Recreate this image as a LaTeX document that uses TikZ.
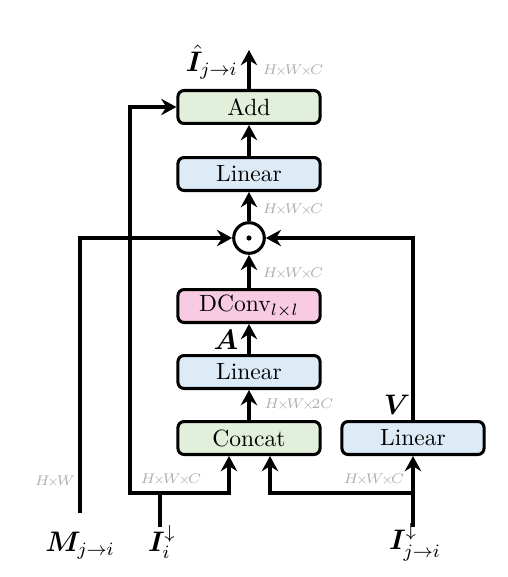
\documentclass[tikz,border=0pt]{standalone}
\usepackage{amsmath,bm}
\usetikzlibrary{arrows.meta}
\definecolor{gfill}{RGB}{226,239,218}
\definecolor{bfill}{RGB}{221,235,247}
\definecolor{pfill}{RGB}{248,203,226}
\definecolor{dimgray}{RGB}{175,175,175}
\newcommand{\dimx}{\mkern-3mu{\scriptstyle\times}\mkern-3mu}
\begin{document}
\begin{tikzpicture}[x=0.425pt,y=-0.425pt,
  blk/.style={draw,line width=1.3pt,rounded corners=2.6pt,minimum width=60.4pt,minimum height=14pt,inner sep=0pt},
  arr/.style={line width=1.3pt,-{Stealth[length=6.5pt,width=7pt,inset=2.2pt]}},
  ln/.style={line width=1.3pt},
  dim/.style={text=dimgray,font=\fontsize{6.5}{7}\selectfont,inner sep=0pt}]
\useasboundingbox (0,0) rectangle (508,577);
\node[blk,fill=gfill] (add) at (249,107) {Add};
\node[blk,fill=bfill] (lin1) at (249,174) {Linear};
\node[draw,circle,line width=1.3pt,minimum size=13pt,inner sep=0pt] (dot) at (249,238) {};
\fill (dot.center) circle (1.1pt);
\node[blk,fill=pfill] (dconv) at (249,306) {DConv$_{l\times l}$};
\node[blk,fill=bfill] (lin2) at (249,372) {Linear};
\node[blk,fill=gfill] (cat) at (249,438) {Concat};
\node[blk,fill=bfill] (lin3) at (413,438) {Linear};
\coordinate (out) at (249,50);
\coordinate (mbot) at (80,513);
\coordinate (ibot) at (160,527);
\coordinate (jbot) at (413,527);
\coordinate (ijn) at (160,493);
\coordinate (jjn) at (413,493);
\node (mlab) at (80,546) {\large$\bm{M}_{j\to i}$};
\node (ilab) at (162,542) {\large$\bm{I}_{i}^{\downarrow}$};
\node (jlab) at (415,542) {\large$\bm{I}_{j\to i}^{\downarrow}$};
\node[anchor=east,inner sep=0pt] (olab) at (238,62) {\large$\hat{\bm{I}}_{j\to i}$};
\node (alab) at (226,340) {\large$\bm{A}$};
\node (vlab) at (397,405) {\large$\bm{V}$};
\node[dim] at (293,71) {$H\dimx W\dimx C$};
\node[dim] at (293,210) {$H\dimx W\dimx C$};
\node[dim] at (293,274) {$H\dimx W\dimx C$};
\node[dim] at (299,405) {$H\dimx W\dimx 2C$};
\node[dim] at (55,482) {$H\dimx W$};
\node[dim] at (171,480) {$H\dimx W\dimx C$};
\node[dim] at (374,480) {$H\dimx W\dimx C$};
\draw[arr] (add.north) -- (out);
\draw[arr] (lin1.north) -- (add.south);
\draw[arr] (dot.north) -- (lin1.south);
\draw[arr] (dconv.north) -- (dot.south);
\draw[arr] (lin2.north) -- (dconv.south);
\draw[arr] (cat.north) -- (lin2.south);
\draw[arr] (mbot) |- (dot.west);
\draw[arr] (lin3.north) |- (dot.east);
\draw[ln] (ibot) -- (ijn);
\draw[arr] (ijn) -| ([xshift=-20*0.425pt]cat.south);
\draw[arr] (ijn) -- (130,493) |- (add.west);
\draw[arr] (jbot) -- (lin3.south);
\draw[arr] (jjn) -| ([xshift=21*0.425pt]cat.south);
\end{tikzpicture}
\end{document}
